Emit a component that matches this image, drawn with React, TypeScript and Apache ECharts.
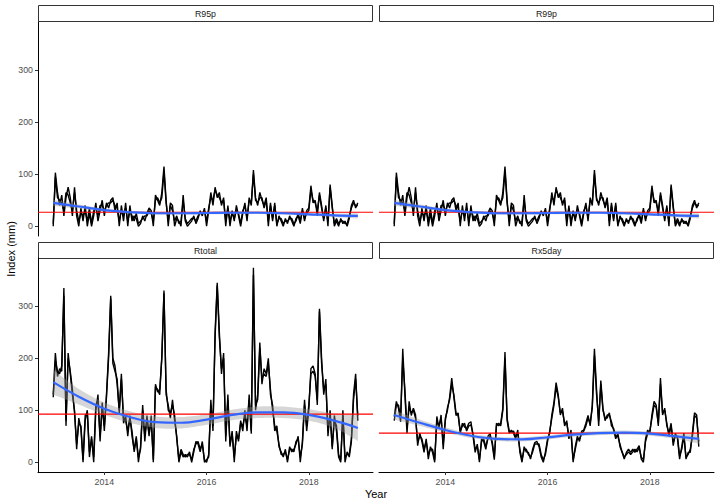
import React, { useEffect, useRef } from "react";
import * as echarts from "echarts";

// ---- data (semi-monthly values, 24 per year, starting 2013.0) ----
const startYear = 2013;
const perYear = 24;

const panelNames = ["R95p", "R99p", "Rtotal", "Rx5day"];

const r95pA = [
  0, 103, 65, 40, 60, 20, 55, 75, 55, 20, 75, 20, 0, 35, 10, 40, 0, 25, 0, 20, 45, 10, 30, 50,
  20, 45, 35, 50, 55, 30, 45, 0, 40, 10, 45, 0, 40, 10, 20, 15, 0, 5, 20, 10, 25, 35, 30, 0,
  60, 50, 40, 65, 115, 50, 0, 45, 40, 0, 15, 10, 0, 60, 10, 0, 5, 10, 20, 5, 15, 30, 20, 35,
  0, 30, 65, 40, 75, 55, 65, 40, 55, 0, 40, 0, 30, 10, 40, 20, 0, 25, 45, 10, 55, 40, 108, 55,
  40, 65, 50, 40, 55, 0, 45, 10, 45, 0, 20, 10, 0, 15, 5, 20, 10, 0, 15, 20, 5, 35, 10, 30,
  35, 78, 45, 50, 20, 65, 40, 10, 40, 0, 80, 40, 0, 10, 0, 15, 5, 10, 0, 15, 40, 50, 35, 45,
];
const r95pB = [
  5, 95, 55, 50, 45, 30, 65, 60, 45, 30, 65, 30, 10, 25, 20, 30, 10, 35, 5, 30, 35, 20, 40, 40,
  30, 40, 45, 45, 50, 40, 35, 10, 30, 20, 35, 10, 30, 20, 10, 25, 5, 10, 15, 20, 20, 30, 25, 10,
  50, 55, 45, 55, 105, 45, 10, 40, 30, 10, 20, 5, 10, 50, 15, 5, 10, 15, 15, 10, 20, 25, 25, 30,
  10, 35, 55, 50, 70, 60, 55, 45, 50, 10, 35, 10, 25, 15, 30, 25, 5, 30, 40, 15, 50, 45, 100, 50,
  45, 55, 55, 35, 50, 10, 40, 15, 40, 5, 15, 15, 5, 10, 10, 15, 15, 5, 10, 25, 10, 30, 15, 25,
  30, 70, 50, 45, 30, 60, 35, 15, 35, 10, 75, 35, 5, 15, 5, 10, 10, 5, 5, 20, 35, 45, 40, 40,
];
// R99p panel shows the same curves as R95p in the reference
const r99pA = [
  0, 103, 65, 40, 60, 20, 55, 75, 55, 20, 75, 20, 0, 35, 10, 40, 0, 25, 0, 20, 45, 10, 30, 50,
  20, 45, 35, 50, 55, 30, 45, 0, 40, 10, 45, 0, 40, 10, 20, 15, 0, 5, 20, 10, 25, 35, 30, 0,
  60, 50, 40, 65, 115, 50, 0, 45, 40, 0, 15, 10, 0, 60, 10, 0, 5, 10, 20, 5, 15, 30, 20, 35,
  0, 30, 65, 40, 75, 55, 65, 40, 55, 0, 40, 0, 30, 10, 40, 20, 0, 25, 45, 10, 55, 40, 108, 55,
  40, 65, 50, 40, 55, 0, 45, 10, 45, 0, 20, 10, 0, 15, 5, 20, 10, 0, 15, 20, 5, 35, 10, 30,
  35, 78, 45, 50, 20, 65, 40, 10, 40, 0, 80, 40, 0, 10, 0, 15, 5, 10, 0, 15, 40, 50, 35, 45,
];
const r99pB = [
  5, 95, 55, 50, 45, 30, 65, 60, 45, 30, 65, 30, 10, 25, 20, 30, 10, 35, 5, 30, 35, 20, 40, 40,
  30, 40, 45, 45, 50, 40, 35, 10, 30, 20, 35, 10, 30, 20, 10, 25, 5, 10, 15, 20, 20, 30, 25, 10,
  50, 55, 45, 55, 105, 45, 10, 40, 30, 10, 20, 5, 10, 50, 15, 5, 10, 15, 15, 10, 20, 25, 25, 30,
  10, 35, 55, 50, 70, 60, 55, 45, 50, 10, 35, 10, 25, 15, 30, 25, 5, 30, 40, 15, 50, 45, 100, 50,
  45, 55, 55, 35, 50, 10, 40, 15, 40, 5, 15, 15, 5, 10, 10, 15, 15, 5, 10, 25, 10, 30, 15, 25,
  30, 70, 50, 45, 30, 60, 35, 15, 35, 10, 75, 35, 5, 15, 5, 10, 10, 5, 5, 20, 35, 45, 40, 40,
];
const rtotalA = [
  130, 210, 165, 180, 175, 335, 70, 210, 170, 130, 100, 25, 85, 65, 0, 80, 100, 10, 50, 0, 100, 130, 40, 115,
  60, 130, 210, 320, 200, 185, 150, 100, 170, 75, 90, 50, 90, 50, 25, 50, 0, 30, 110, 40, 90, 50, 90, 0,
  150, 135, 140, 200, 330, 130, 110, 85, 120, 80, 50, 0, 20, 10, 15, 10, 20, 0, 20, 40, 35, 20, 40, 0,
  5, 10, 120, 60, 250, 345, 250, 170, 210, 40, 130, 30, 60, 0, 60, 40, 80, 60, 100, 60, 130, 60, 374, 100,
  130, 230, 150, 180, 170, 200, 130, 110, 60, 70, 30, 20, 10, 25, 0, 30, 20, 25, 35, 50, 0, 40, 120, 60,
  100, 180, 185, 170, 110, 295, 200, 130, 160, 50, 100, 25, 90, 60, 10, 0, 100, 0, 20, 10, 40, 130, 170, 80,
];
const rtotalB = [
  125, 195, 175, 170, 185, 320, 80, 200, 175, 140, 95, 35, 75, 70, 5, 90, 95, 20, 45, 10, 110, 120, 50, 105,
  70, 125, 200, 315, 190, 175, 160, 95, 160, 85, 80, 60, 85, 60, 20, 45, 10, 25, 100, 50, 85, 55, 80, 5,
  145, 140, 130, 205, 325, 140, 100, 95, 110, 90, 45, 5, 25, 15, 10, 15, 15, 5, 25, 35, 40, 25, 35, 5,
  0, 15, 110, 70, 240, 340, 240, 180, 200, 50, 120, 35, 55, 10, 50, 45, 75, 70, 90, 70, 120, 55, 360, 110,
  120, 220, 160, 170, 165, 190, 140, 100, 70, 60, 35, 15, 15, 20, 5, 25, 25, 20, 40, 45, 10, 35, 110, 70,
  110, 170, 175, 165, 120, 290, 190, 140, 150, 60, 90, 30, 80, 70, 15, 5, 90, 10, 15, 15, 45, 120, 160, 90,
];
const rx5dayA = [
  88, 117, 104, 78, 218, 130, 56, 117, 90, 104, 91, 32, 56, 40, 19, 45, 6, 30, 19, 0, 88, 65, 91, 25,
  85, 100, 125, 162, 125, 90, 95, 56, 75, 68, 65, 75, 78, 50, 19, 35, 0, 45, 40, 25, 50, 55, 35, 5,
  75, 70, 75, 104, 212, 80, 56, 62, 56, 45, 62, 19, 0, 30, 20, 19, 6, 25, 38, 40, 30, 10, 0, 20,
  45, 56, 91, 115, 153, 130, 91, 104, 70, 80, 45, 62, 0, 30, 50, 40, 60, 62, 75, 90, 70, 110, 218, 140,
  70, 157, 104, 80, 91, 91, 78, 62, 45, 56, 30, 19, 6, 19, 25, 19, 25, 19, 25, 32, 6, 0, 45, 62,
  56, 91, 117, 110, 70, 162, 91, 104, 70, 56, 75, 32, 56, 45, 6, 30, 56, 6, 19, 19, 56, 95, 91, 30,
];
const rx5dayB = [
  80, 110, 110, 85, 200, 140, 65, 105, 95, 100, 85, 40, 50, 45, 25, 40, 15, 25, 25, 5, 80, 70, 85, 35,
  80, 105, 120, 150, 130, 95, 90, 60, 70, 75, 60, 70, 72, 55, 25, 30, 5, 40, 45, 30, 45, 50, 40, 10,
  70, 75, 70, 100, 200, 85, 60, 58, 60, 50, 55, 25, 5, 25, 25, 15, 10, 20, 35, 35, 35, 15, 5, 15,
  40, 60, 85, 110, 145, 125, 95, 98, 75, 75, 50, 55, 5, 25, 45, 45, 55, 60, 70, 85, 75, 105, 205, 130,
  80, 150, 100, 85, 85, 95, 70, 65, 50, 50, 35, 20, 10, 15, 20, 15, 20, 25, 20, 28, 10, 5, 40, 55,
  60, 85, 110, 105, 75, 150, 95, 100, 75, 50, 70, 38, 50, 50, 12, 25, 50, 10, 15, 25, 50, 90, 85, 40,
];

// reference (red) lines
const refValues = [27, 27, 92.5, 56];

// loess fit (blue) and standard-error half widths (grey band)
const fitYears = [2013, 2013.5, 2014, 2014.5, 2015, 2015.5, 2016, 2016.5, 2017, 2017.5, 2018, 2018.5, 2018.96];
const r95pFit = [45, 38, 31, 27, 25, 25, 25.5, 26, 26, 25, 23, 21, 20];
const r95pSe = [6, 4, 3, 2.5, 2.5, 2.5, 2.5, 2.5, 2.5, 2.5, 2.5, 3.5, 5];
const r99pFit = [45, 38, 31, 27, 25, 25, 25.5, 26, 26, 25, 23, 21, 20];
const r99pSe = [6, 4, 3, 2.5, 2.5, 2.5, 2.5, 2.5, 2.5, 2.5, 2.5, 3.5, 5];
const rtotalFit = [154, 126, 103, 87, 77, 76, 82, 91, 96, 96, 91, 80, 66];
const rtotalSe = [24, 15, 12, 11, 11, 11, 10, 10, 11, 11, 11, 14, 25];
const rx5dayFit = [91, 76, 62, 51, 45, 44, 48, 53, 56, 57, 55, 50, 45];
const rx5daySe = [9, 6, 5, 4, 4, 4, 4, 4, 4, 4, 4, 5, 9];

const yTicks = [0, 100, 200, 300];
const xTicks = [2014, 2016, 2018];

const lineSets = [
  [r95pA, r95pB],
  [r99pA, r99pB],
  [rtotalA, rtotalB],
  [rx5dayA, rx5dayB],
];
const fits = [r95pFit, r99pFit, rtotalFit, rx5dayFit];
const ses = [r95pSe, r99pSe, rtotalSe, rx5daySe];

// Catmull-Rom sampling of pixel points (drawing helper only)
function splinePts(pts: number[][]): number[][] {
  const out: number[][] = [];
  const n = pts.length;
  for (let i = 0; i < n - 1; i++) {
    const p0 = pts[Math.max(0, i - 1)];
    const p1 = pts[i];
    const p2 = pts[i + 1];
    const p3 = pts[Math.min(n - 1, i + 2)];
    for (let k = 0; k < 10; k++) {
      const t = k / 10;
      const t2 = t * t;
      const t3 = t2 * t;
      const f = (a: number, b: number, c: number, d: number) =>
        0.5 * (2 * b + (-a + c) * t + (2 * a - 5 * b + 4 * c - d) * t2 + (-a + 3 * b - 3 * c + d) * t3);
      out.push([f(p0[0], p1[0], p2[0], p3[0]), f(p0[1], p1[1], p2[1], p3[1])]);
    }
  }
  out.push(pts[n - 1]);
  return out;
}

export default function App() {
  const ref = useRef<HTMLDivElement>(null);

  useEffect(() => {
    if (!ref.current) return;
    const chart = echarts.init(ref.current, undefined, { renderer: "svg" });
    const font = "'Liberation Sans', Arial, Helvetica, sans-serif";

    const boxes = [
      { left: 38, top: 22, width: 335, height: 214 },
      { left: 379, top: 22, width: 335, height: 214 },
      { left: 38, top: 258, width: 335, height: 214 },
      { left: 379, top: 258, width: 335, height: 214 },
    ];
    const stripTops = [5, 5, 242, 242];

    const xMin = 2012.702;
    const xMax = 2019.256;
    const yMin = -18.7;
    const yMax = 392.7;

    const grids = boxes.map((b) => ({ ...b, containLabel: false }));
    const xAxes = boxes.map((_, i) => {
      const bottom = i >= 2;
      return {
        type: "value",
        gridIndex: i,
        min: xMin,
        max: xMax,
        splitLine: { show: false },
        axisLine: { show: bottom, onZero: false, lineStyle: { color: "#000", width: 1 } },
        axisTick: {
          show: bottom,
          length: 3,
          customValues: xTicks,
          lineStyle: { color: "#333", width: 1 },
        },
        axisLabel: {
          show: bottom,
          customValues: xTicks,
          margin: 5,
          fontSize: 8.8,
          color: "#4d4d4d",
          fontFamily: font,
          formatter: (v: number) => String(v),
        },
      };
    });
    const yAxes = boxes.map((_, i) => {
      const left = i % 2 === 0;
      return {
        type: "value",
        gridIndex: i,
        min: yMin,
        max: yMax,
        splitLine: { show: false },
        axisLine: { show: left, onZero: false, lineStyle: { color: "#000", width: 1 } },
        axisTick: {
          show: left,
          length: 3,
          customValues: yTicks,
          lineStyle: { color: "#333", width: 1 },
        },
        axisLabel: {
          show: left,
          customValues: yTicks,
          margin: 5,
          fontSize: 8.8,
          color: "#4d4d4d",
          fontFamily: font,
        },
      };
    });

    const series: any[] = [];
    lineSets.forEach((set, p) => {
      set.forEach((vals) => {
        series.push({
          type: "line",
          xAxisIndex: p,
          yAxisIndex: p,
          data: vals.map((v, i) => [startYear + i / perYear, v]),
          symbol: "none",
          showSymbol: false,
          lineStyle: { color: "#000", width: 1.4 },
          silent: true,
          z: 2,
        });
      });
      const fit = fits[p];
      const se = ses[p];
      series.push({
        type: "custom",
        xAxisIndex: p,
        yAxisIndex: p,
        data: [[fitYears[0], fit[0]]],
        silent: true,
        z: 3,
        renderItem: (_params: any, api: any) => {
          const up = fit.map((f, i) => api.coord([fitYears[i], f + se[i]]));
          const lo = fit.map((f, i) => api.coord([fitYears[i], f - se[i]]));
          const pts = splinePts(up).concat(splinePts(lo).reverse());
          return {
            type: "polygon",
            shape: { points: pts },
            style: { fill: "rgba(153,153,153,0.4)", stroke: "none" },
          };
        },
      });
      series.push({
        type: "line",
        xAxisIndex: p,
        yAxisIndex: p,
        data: [
          [xMin, refValues[p]],
          [xMax, refValues[p]],
        ],
        symbol: "none",
        lineStyle: { color: "#ff0000", width: 1.1 },
        silent: true,
        z: 4,
      });
      series.push({
        type: "line",
        xAxisIndex: p,
        yAxisIndex: p,
        data: fit.map((f, i) => [fitYears[i], f]),
        symbol: "none",
        smooth: 0.4,
        lineStyle: { color: "#3366FF", width: 2.2 },
        silent: true,
        z: 5,
      });
    });

    const graphics: any[] = [];
    boxes.forEach((b, i) => {
      graphics.push({
        type: "rect",
        shape: { x: b.left + 0.5, y: stripTops[i] + 0.5, width: b.width - 1, height: 16 },
        style: { fill: "#fff", stroke: "#333", lineWidth: 1 },
        silent: true,
      });
      graphics.push({
        type: "text",
        x: b.left + b.width / 2,
        y: stripTops[i] + 8.5,
        style: {
          text: panelNames[i],
          fill: "#1a1a1a",
          font: `8.8px ${font}`,
          align: "center",
          verticalAlign: "middle",
        },
        silent: true,
      });
    });
    graphics.push({
      type: "text",
      x: 10.5,
      y: 249,
      rotation: Math.PI / 2,
      style: {
        text: "Index (mm)",
        fill: "#000",
        font: `11px ${font}`,
        align: "center",
        verticalAlign: "middle",
      },
      silent: true,
    });
    graphics.push({
      type: "text",
      x: 376,
      y: 494,
      style: {
        text: "Year",
        fill: "#000",
        font: `11px ${font}`,
        align: "center",
        verticalAlign: "middle",
      },
      silent: true,
    });

    chart.setOption({
      animation: false,
      backgroundColor: "#fff",
      grid: grids,
      xAxis: xAxes,
      yAxis: yAxes,
      series,
      graphic: graphics,
    });

    return () => chart.dispose();
  }, []);

  return (
    <div
      ref={ref}
      style={{ position: "fixed", left: 0, top: 0, width: 720, height: 504 }}
    />
  );
}
